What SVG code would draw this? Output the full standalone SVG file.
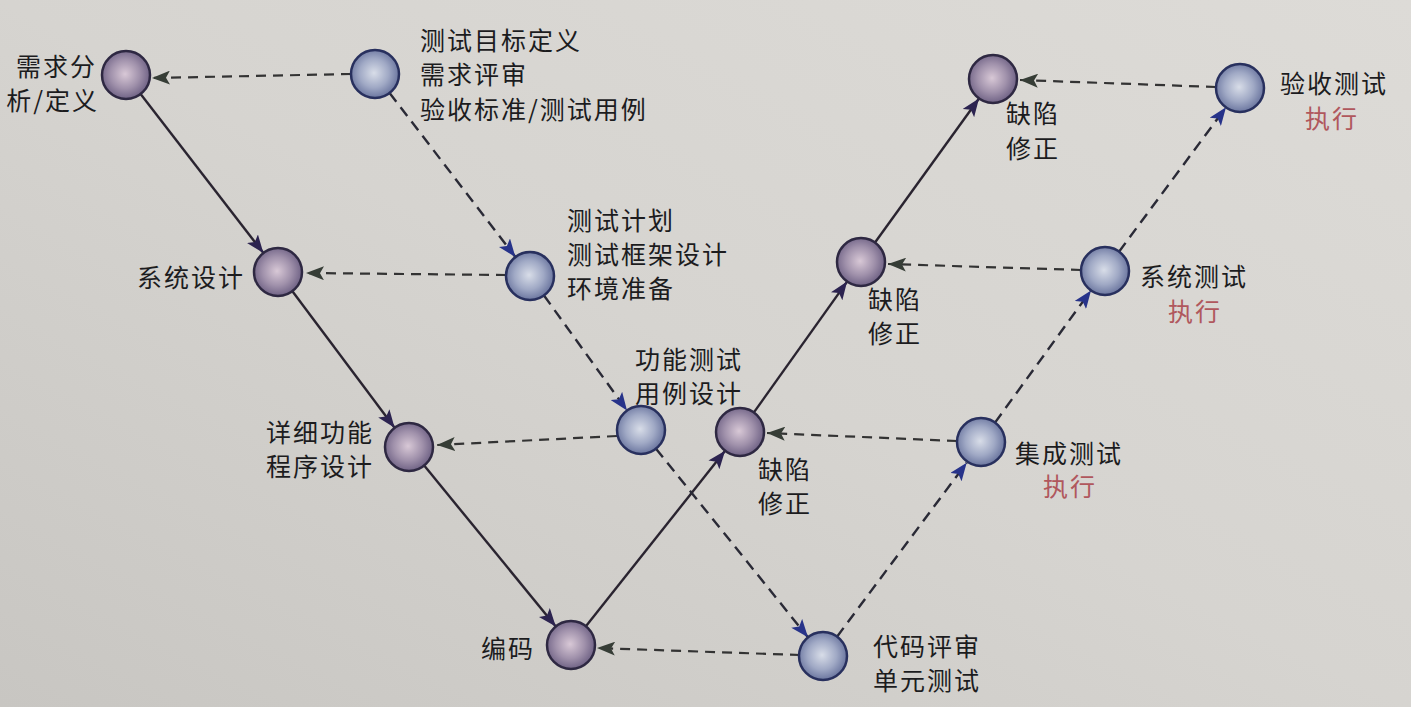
<svg xmlns="http://www.w3.org/2000/svg" width="1411" height="707" viewBox="0 0 1411 707">
<defs>
  <linearGradient id="bg" x1="1" y1="0" x2="0" y2="1">
    <stop offset="0" stop-color="#dddbd7"/>
    <stop offset="0.5" stop-color="#d6d4d0"/>
    <stop offset="1" stop-color="#c8c6c2"/>
  </linearGradient>
  <radialGradient id="gPurple" cx="0.48" cy="0.48" r="0.55">
    <stop offset="0" stop-color="#d8c8d6"/>
    <stop offset="0.55" stop-color="#a091ab"/>
    <stop offset="1" stop-color="#695c80"/>
  </radialGradient>
  <radialGradient id="gBlue" cx="0.48" cy="0.48" r="0.55">
    <stop offset="0" stop-color="#d8dde8"/>
    <stop offset="0.55" stop-color="#a0a9c5"/>
    <stop offset="1" stop-color="#646f9a"/>
  </radialGradient>
  <marker id="arrSolid" viewBox="0 0 18 14" refX="18" refY="7" markerWidth="18" markerHeight="14" markerUnits="userSpaceOnUse" orient="auto">
    <path d="M0,0 L18,7 L0,14 L4,7 Z" fill="#2c2350"/>
  </marker>
  <marker id="arrBlue" viewBox="0 0 18 14" refX="18" refY="7" markerWidth="18" markerHeight="14" markerUnits="userSpaceOnUse" orient="auto">
    <path d="M0,0 L18,7 L0,14 L4,7 Z" fill="#27338a"/>
  </marker>
  <marker id="arrGray" viewBox="0 0 18 14" refX="18" refY="7" markerWidth="18" markerHeight="14" markerUnits="userSpaceOnUse" orient="auto">
    <path d="M0,0 L18,7 L0,14 L4,7 Z" fill="#363d36"/>
  </marker>
</defs>
<style>
  .lbl { font-family: "Noto Sans CJK SC", "Noto Sans", sans-serif; font-size: 25px; fill: #1c1c1e; letter-spacing: 2px; }
  .red { fill: #b0575d; }
  .end { text-anchor: end; }
  .mid { text-anchor: middle; }
  .np { fill: url(#gPurple); stroke: #2e2842; stroke-width: 2.5; }
  .nb { fill: url(#gBlue); stroke: #28305e; stroke-width: 2.5; }
  .solid { stroke: #2a2430; stroke-width: 2.4; fill: none; marker-end: url(#arrSolid); }
  .dashd { stroke: #2a2a36; stroke-width: 2.4; fill: none; stroke-dasharray: 11 7; marker-end: url(#arrBlue); }
  .dashh { stroke: #333333; stroke-width: 2.2; fill: none; stroke-dasharray: 10 7; marker-end: url(#arrGray); }
</style>
<rect x="0" y="0" width="1411" height="707" fill="url(#bg)"/>

<g id="connectors">
  <line class="solid" x1="140.6" y1="94" x2="263.4" y2="253"/>
  <line class="solid" x1="292.4" y1="291.2" x2="394.6" y2="427.8"/>
  <line class="solid" x1="424.2" y1="465.6" x2="555.8" y2="626.4"/>
  <line class="solid" x1="585.9" y1="626.2" x2="725.1" y2="450.8"/>
  <line class="solid" x1="753.9" y1="412.4" x2="847.1" y2="281.6"/>
  <line class="solid" x1="875" y1="242.5" x2="979" y2="98.5"/>
  <line class="dashd" x1="389.6" y1="93" x2="515.4" y2="257"/>
  <line class="dashd" x1="544" y1="295.5" x2="627" y2="410.5"/>
  <line class="dashd" x1="656" y1="448.7" x2="808" y2="637.3"/>
  <line class="dashd" x1="837" y1="636.7" x2="966.7" y2="462.7"/>
  <line class="dashd" x1="995" y1="422.6" x2="1091" y2="290.4"/>
  <line class="dashd" x1="1119" y1="251.7" x2="1226" y2="107.3"/>
  <line class="dashh" x1="351" y1="74" x2="152" y2="78"/>
  <line class="dashh" x1="506" y1="275" x2="306" y2="273"/>
  <line class="dashh" x1="617" y1="436" x2="437" y2="445"/>
  <line class="dashh" x1="800" y1="655" x2="597" y2="648"/>
  <line class="dashh" x1="957" y1="441" x2="767" y2="433"/>
  <line class="dashh" x1="1081" y1="270" x2="888" y2="264"/>
  <line class="dashh" x1="1216" y1="87" x2="1020" y2="80"/>
</g>

<g id="n-req">
  <circle class="np" cx="126" cy="75" r="24"/>
  <text class="lbl end" x="97" y="76">需求分</text>
  <text class="lbl end" x="99" y="110">析/定义</text>
</g>
<g id="t-req">
  <circle class="nb" cx="375" cy="74" r="24"/>
  <text class="lbl" x="420" y="50">测试目标定义</text>
  <text class="lbl" x="420" y="84">需求评审</text>
  <text class="lbl" x="420" y="119">验收标准/测试用例</text>
</g>
<g id="n-sys">
  <circle class="np" cx="278" cy="272" r="24"/>
  <text class="lbl end" x="245" y="287">系统设计</text>
</g>
<g id="t-sys">
  <circle class="nb" cx="530" cy="276" r="24"/>
  <text class="lbl" x="567" y="230">测试计划</text>
  <text class="lbl" x="567" y="264">测试框架设计</text>
  <text class="lbl" x="567" y="298">环境准备</text>
</g>
<g id="n-detail">
  <circle class="np" cx="409" cy="447" r="24"/>
  <text class="lbl end" x="374" y="442">详细功能</text>
  <text class="lbl end" x="374" y="476">程序设计</text>
</g>
<g id="t-func">
  <circle class="nb" cx="641" cy="430" r="24"/>
  <text class="lbl" x="635" y="369">功能测试</text>
  <text class="lbl" x="635" y="403">用例设计</text>
</g>
<g id="n-code">
  <circle class="np" cx="571" cy="645" r="24"/>
  <text class="lbl end" x="535" y="658">编码</text>
</g>
<g id="t-unit">
  <circle class="nb" cx="823" cy="656" r="24"/>
  <text class="lbl" x="873" y="656">代码评审</text>
  <text class="lbl" x="873" y="690">单元测试</text>
</g>
<g id="fix-1">
  <circle class="np" cx="740" cy="432" r="24"/>
  <text class="lbl" x="758" y="479">缺陷</text>
  <text class="lbl" x="758" y="513">修正</text>
</g>
<g id="t-integ">
  <circle class="nb" cx="981" cy="442" r="24"/>
  <text class="lbl" x="1015" y="463">集成测试</text>
  <text class="lbl red mid" x="1070" y="496">执行</text>
</g>
<g id="fix-2">
  <circle class="np" cx="861" cy="262" r="24"/>
  <text class="lbl" x="868" y="309">缺陷</text>
  <text class="lbl" x="868" y="343">修正</text>
</g>
<g id="t-system">
  <circle class="nb" cx="1105" cy="271" r="24"/>
  <text class="lbl" x="1140" y="286">系统测试</text>
  <text class="lbl red mid" x="1195" y="321">执行</text>
</g>
<g id="fix-3">
  <circle class="np" cx="993" cy="79" r="24"/>
  <text class="lbl" x="1006" y="123">缺陷</text>
  <text class="lbl" x="1006" y="158">修正</text>
</g>
<g id="t-accept">
  <circle class="nb" cx="1240" cy="88" r="24"/>
  <text class="lbl" x="1280" y="93">验收测试</text>
  <text class="lbl red mid" x="1332" y="128">执行</text>
</g>
</svg>
